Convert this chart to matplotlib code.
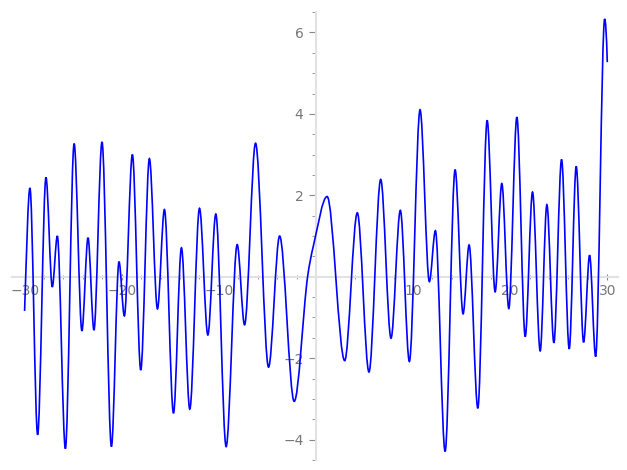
import numpy as np
import matplotlib
matplotlib.use("Agg")
import matplotlib.pyplot as plt
from matplotlib.path import Path
from matplotlib.patches import PathPatch

# turning points of the curve (x, y, slope there)
xs = [-30.0, -29.45, -28.66, -27.8, -27.15, -26.63, -25.8, -24.9, -24.1, -23.47,
      -22.86, -22.03, -21.06, -20.28, -19.73, -18.9, -18.04, -17.15, -16.32, -15.6,
      -14.67, -13.85, -12.99, -11.99, -11.13, -10.31, -9.25, -8.11, -7.35, -6.22,
      -4.88, -3.74, -2.24, -0.86, -0.28, 1.15, 2.96, 4.26, 5.46, 6.67,
      7.73, 8.69, 9.62, 10.72, 11.68, 12.3, 13.3, 14.33, 15.15, 15.77,
      16.67, 17.63, 18.45, 19.14, 19.86, 20.69, 21.55, 22.3, 23.09, 23.78,
      24.5, 25.29, 26.08, 26.8, 27.56, 28.18, 28.8, 29.73, 30.0]
ys = [-0.84, 2.18, -3.88, 2.44, -0.25, 1.0, -4.22, 3.27, -1.33, 0.96,
      -1.31, 3.31, -4.17, 0.37, -0.96, 3.0, -2.29, 2.9, -0.79, 1.65,
      -3.35, 0.71, -3.25, 1.68, -1.43, 1.54, -4.17, 0.79, -1.18, 3.28,
      -2.22, 1.0, -3.06, 0.0, 0.74, 1.97, -2.06, 1.57, -2.34, 2.39,
      -1.51, 1.63, -2.08, 4.10, -0.12, 1.13, -4.29, 2.63, -0.91, 0.78,
      -3.23, 3.84, -0.37, 2.29, -0.78, 3.92, -1.47, 2.08, -1.82, 1.77,
      -1.62, 2.88, -1.77, 2.71, -1.61, 0.53, -1.96, 6.33, 5.27]
slopes = [7.0] + [0.0] * 32 + [1.7, 1.0] + [0.0] * 33 + [-8.0]

xticks = [-30, -20, -10, 10, 20, 30]
yticks = [-4, -2, 2, 4, 6]

# smooth curve through the points (cubic pieces)
verts = [(xs[0], ys[0])]
codes = [Path.MOVETO]
for i in range(len(xs) - 1):
    dx = xs[i + 1] - xs[i]
    verts += [(xs[i] + dx / 3, ys[i] + slopes[i] * dx / 3),
              (xs[i + 1] - dx / 3, ys[i + 1] - slopes[i + 1] * dx / 3),
              (xs[i + 1], ys[i + 1])]
    codes += [Path.CURVE4] * 3

fig = plt.figure(figsize=(6.27, 4.7), dpi=100)
ax = fig.add_axes([0.0191, 0.0213, 0.9665, 0.953])
ax.add_patch(PathPatch(Path(verts, codes), facecolor="none", edgecolor="blue",
                       lw=1.2, zorder=5))

ax.set_xlim(-31.3, 31.1)
ax.set_ylim(-4.5, 6.5)

for s in ["top", "right"]:
    ax.spines[s].set_visible(False)
ax.spines["left"].set_position(("data", 0))
ax.spines["bottom"].set_position(("data", 0))
for s in ["left", "bottom"]:
    ax.spines[s].set_color("#e2e2e2")
    ax.spines[s].set_linewidth(1.5)

ax.set_xticks(xticks)
ax.set_yticks(yticks)
ax.set_xticks(np.arange(-30, 31, 2), minor=True)
ax.set_yticks(np.arange(-4.5, 6.6, 0.5), minor=True)
ax.tick_params(which="both", colors="#888888", labelcolor="#777777", labelsize=10)
ax.tick_params(axis="x", which="major", length=4, direction="inout")
ax.tick_params(axis="x", which="minor", length=3, direction="inout")
ax.tick_params(axis="y", which="major", length=5, direction="out", pad=4)
ax.tick_params(axis="y", which="minor", length=3, direction="out")

fig.savefig("out.png", dpi=100)
